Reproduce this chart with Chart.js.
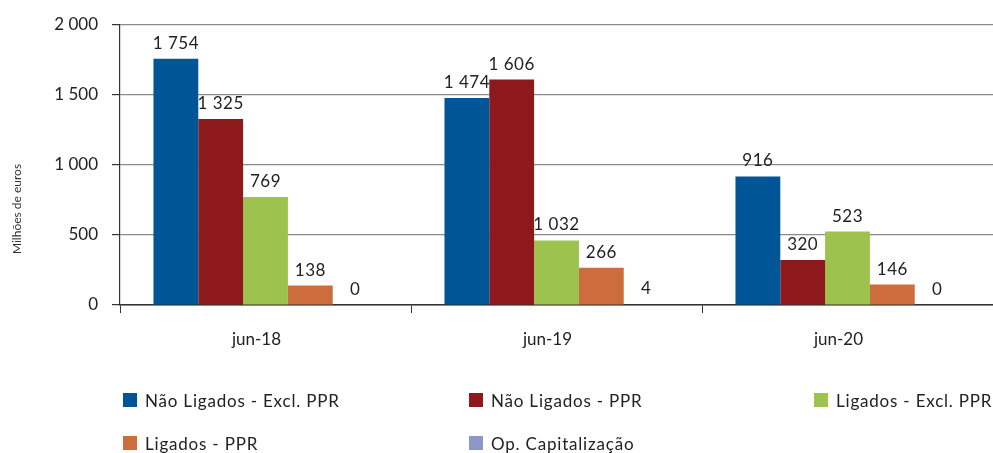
<!DOCTYPE html>
<html>
<head>
<meta charset="utf-8">
<script src="https://cdn.jsdelivr.net/npm/chart.js@4/dist/chart.umd.min.js"></script>
<style>
  html, body { margin: 0; padding: 0; background: #fff; overflow: hidden; }
  #wrap { position: relative; width: 993px; height: 453px; }
  #c { position: absolute; left: 0; top: 0; }
  .lg { position: absolute; display: flex; align-items: center; font-family: Lato, "Open Sans", sans-serif; font-size: 17px; letter-spacing: 0.8px; color: #222; white-space: nowrap; }
  .lg span.box { display: inline-block; width: 14px; height: 14px; margin-right: 8px; }
</style>
</head>
<body>
<div id="wrap">
  <canvas id="c" width="993" height="453"></canvas>
</div>
<script>
// ---- data ----
const categories = ['jun-18', 'jun-19', 'jun-20'];
const seriesNames = ['Não Ligados - Excl. PPR', 'Não Ligados - PPR', 'Ligados - Excl. PPR', 'Ligados - PPR', 'Op. Capitalização'];
const naoLigadosExcl = [1754, 1474, 916];
const naoLigadosPPR = [1325, 1606, 320];
const ligadosExcl = [769, 460, 523];          // bar heights as drawn
const ligadosExclLabels = ['769', '1 032', '523']; // labels as printed
const ligadosPPR = [138, 266, 146];
const opCapitalizacao = [0, 4, 0];
const yTicks = [0, 500, 1000, 1500, 2000];
const yTitle = 'Milhões de euros';

const colors = ['#005596', '#8E191D', '#9DC24E', '#CD6D3C', '#8E98C8'];
const fmt = v => String(v).replace(/\B(?=(\d{3})+(?!\d))/g, ' ');
const seriesValues = [naoLigadosExcl, naoLigadosPPR, ligadosExcl, ligadosPPR, opCapitalizacao];
const seriesLabels = [naoLigadosExcl.map(fmt), naoLigadosPPR.map(fmt), ligadosExclLabels, ligadosPPR.map(fmt), opCapitalizacao.map(fmt)];

const FONT = 'Lato, "Open Sans", sans-serif';

const valueLabels = {
  id: 'valueLabels',
  afterDatasetsDraw(chart) {
    const ctx = chart.ctx;
    ctx.save();
    ctx.font = '17px ' + FONT;
    if ('letterSpacing' in ctx) ctx.letterSpacing = '0.5px';
    ctx.fillStyle = '#222';
    ctx.textAlign = 'center';
    ctx.textBaseline = 'alphabetic';
    chart.data.datasets.forEach((ds, di) => {
      const meta = chart.getDatasetMeta(di);
      meta.data.forEach((el, i) => {
        ctx.fillText(seriesLabels[di][i], el.x, el.y - 10);
      });
    });
    ctx.restore();
  }
};

const yTitlePlugin = {
  id: 'yTitlePlugin',
  afterDraw(chart) {
    const ctx = chart.ctx;
    ctx.save();
    ctx.translate(17, 209);
    ctx.rotate(-Math.PI / 2);
    ctx.font = '12px ' + FONT;
    ctx.fillStyle = '#333';
    ctx.textAlign = 'center';
    ctx.textBaseline = 'middle';
    ctx.fillText(yTitle, 0, 0);
    ctx.restore();
  }
};

new Chart(document.getElementById('c'), {
  type: 'bar',
  data: {
    labels: categories,
    datasets: seriesNames.map((n, i) => ({
      label: n,
      data: seriesValues[i],
      backgroundColor: colors[i],
      categoryPercentage: 0.77,
      barPercentage: 1.0,
      borderWidth: 0
    }))
  },
  options: {
    responsive: false,
    animation: false,
    layout: { padding: { top: 24, right: 0, left: 0, bottom: 0 } },
    plugins: { legend: { display: false }, tooltip: { enabled: false } },
    scales: {
      x: {
        grid: { offset: true, drawOnChartArea: false, drawTicks: true, tickLength: 8, color: '#333', lineWidth: 1 },
        border: { color: '#333', width: 1.5 },
        ticks: { font: { family: FONT, size: 17 }, color: '#222', padding: 16, labelOffset: -9 },
        afterFit(s) { s.height = 148; }
      },
      y: {
        min: 0, max: 2000,
        afterBuildTicks(s) { s.ticks = yTicks.map(v => ({ value: v })); },
        grid: { color: '#8a8a8a', lineWidth: 1.2, tickLength: 8, tickColor: '#333' },
        border: { color: '#333', width: 1.2 },
        ticks: { font: { family: FONT, size: 17 }, color: '#222', padding: 14, callback: v => fmt(v) },
        afterFit(s) { s.width = 120; }
      }
    }
  },
  plugins: [valueLabels, yTitlePlugin]
});

// ---- legend (HTML) ----
const legendPos = [[123, 400], [469, 400], [814, 400], [123, 443], [469, 443]];
const wrap = document.getElementById('wrap');
seriesNames.forEach((n, i) => {
  const d = document.createElement('div');
  d.className = 'lg';
  d.style.left = legendPos[i][0] + 'px';
  d.style.top = (legendPos[i][1] - 11) + 'px';
  d.style.height = '22px';
  const b = document.createElement('span');
  b.className = 'box';
  b.style.background = colors[i];
  d.appendChild(b);
  d.appendChild(document.createTextNode(n));
  wrap.appendChild(d);
});
</script>
</body>
</html>
